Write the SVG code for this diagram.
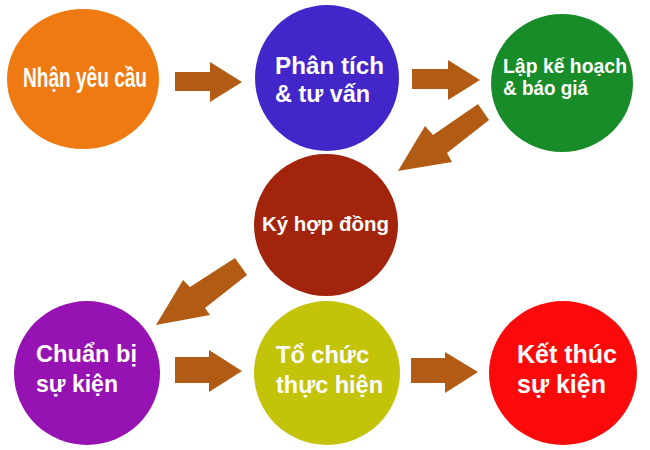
<svg xmlns="http://www.w3.org/2000/svg" width="650" height="450" viewBox="0 0 650 450">
<style>
.t{font-family:"Liberation Sans",Arial,sans-serif;font-weight:bold;fill:#fff}
.a{fill:#B25B14}
</style>
<rect width="650" height="450" fill="#fff"/>
<g id="connectors">
<polygon class="a" points="175,72 210,72 210,62 242,82 210,102 210,91 175,91"/>
<polygon class="a" points="412,69 448,69 448,60 480,80 448,100 448,89 412,89"/>
<polygon class="a" points="478,104 489,120 447,153 452,162 398,171 425,126 433,135"/>
<polygon class="a" points="235,258 247,275 205,308 210,315 156,325 183,280 190,287"/>
<polygon class="a" points="175,357 209,357 209,350 242,371 209,392 209,383 175,383"/>
<polygon class="a" points="411,358 445,358 445,352 478,372 445,393 445,383 411,383"/>
</g>
<g id="n1">
<ellipse cx="83" cy="79" rx="76" ry="70" fill="#EE7A11"/>
<text class="t" x="23" y="87" font-size="27" textLength="124" lengthAdjust="spacingAndGlyphs">Nhận yêu cầu</text>
</g>
<g id="n2">
<ellipse cx="327" cy="78" rx="72" ry="73" fill="#4226CA"/>
<text class="t" x="275" y="74" font-size="24" textLength="109" lengthAdjust="spacingAndGlyphs">Phân tích</text>
<text class="t" x="275" y="102" font-size="24" textLength="95" lengthAdjust="spacingAndGlyphs">&amp; tư vấn</text>
</g>
<g id="n3">
<ellipse cx="562" cy="83" rx="71" ry="69" fill="#178C28"/>
<text class="t" x="503" y="73" font-size="19.5" textLength="124" lengthAdjust="spacingAndGlyphs">Lập kế hoạch</text>
<text class="t" x="503" y="95" font-size="19.5" textLength="85" lengthAdjust="spacingAndGlyphs">&amp; báo giá</text>
</g>
<g id="n4">
<ellipse cx="326" cy="225" rx="72" ry="71" fill="#A2240C"/>
<text class="t" x="262" y="231" font-size="20.5" textLength="127" lengthAdjust="spacingAndGlyphs">Ký hợp đồng</text>
</g>
<g id="n5">
<ellipse cx="87" cy="373" rx="73" ry="72" fill="#9712B3"/>
<text class="t" x="36" y="362" font-size="24" textLength="101" lengthAdjust="spacingAndGlyphs">Chuẩn bị</text>
<text class="t" x="36" y="392" font-size="24" textLength="82" lengthAdjust="spacingAndGlyphs">sự kiện</text>
</g>
<g id="n6">
<ellipse cx="327" cy="373" rx="73" ry="72" fill="#C3C30A"/>
<text class="t" x="276" y="363" font-size="24" textLength="93" lengthAdjust="spacingAndGlyphs">Tổ chức</text>
<text class="t" x="276" y="393" font-size="24" textLength="107" lengthAdjust="spacingAndGlyphs">thực hiện</text>
</g>
<g id="n7">
<ellipse cx="563" cy="373" rx="74" ry="72" fill="#FA0A0A"/>
<text class="t" x="517" y="363" font-size="25" textLength="100" lengthAdjust="spacingAndGlyphs">Kết thúc</text>
<text class="t" x="517" y="393" font-size="25" textLength="89" lengthAdjust="spacingAndGlyphs">sự kiện</text>
</g>
</svg>
